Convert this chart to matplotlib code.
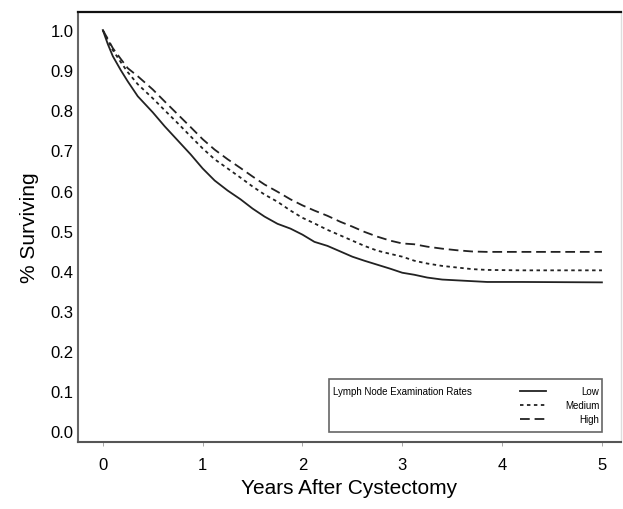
import numpy as np
import matplotlib
matplotlib.use("Agg")
import matplotlib.pyplot as plt
from matplotlib.patches import Rectangle
from matplotlib.lines import Line2D

plt.rcParams['font.family'] = ['Liberation Sans', 'DejaVu Sans']
plt.rcParams['lines.scale_dashes'] = False

# survival curves
years = [0.0, 0.05, 0.1, 0.18, 0.25, 0.35, 0.5, 0.62, 0.75, 0.88, 1.0, 1.12, 1.25, 1.38, 1.5,
         1.62, 1.75, 1.88, 2.0, 2.12, 2.25, 2.38, 2.5, 2.62, 2.75, 2.88, 3.0, 3.12, 3.25,
         3.4, 3.55, 3.7, 3.85, 4.2, 5.0]
low = [1.0, 0.965, 0.935, 0.90, 0.872, 0.835, 0.795, 0.76, 0.725, 0.69, 0.655, 0.625, 0.6, 0.578, 0.555,
       0.535, 0.517, 0.505, 0.49, 0.472, 0.462, 0.448, 0.435, 0.425, 0.415, 0.405, 0.395, 0.39, 0.383,
       0.378, 0.376, 0.374, 0.372, 0.372, 0.371]
medium = [1.0, 0.975, 0.95, 0.92, 0.895, 0.865, 0.83, 0.80, 0.768, 0.735, 0.705, 0.678, 0.655, 0.632, 0.61,
          0.59, 0.572, 0.55, 0.532, 0.518, 0.502, 0.488, 0.475, 0.462, 0.45, 0.442, 0.435, 0.425, 0.418,
          0.412, 0.408, 0.404, 0.402, 0.401, 0.401]
high = [1.0, 0.978, 0.955, 0.928, 0.905, 0.885, 0.852, 0.822, 0.79, 0.758, 0.728, 0.702, 0.678, 0.656, 0.635,
        0.615, 0.597, 0.578, 0.563, 0.55, 0.537, 0.522, 0.51, 0.497, 0.485, 0.475, 0.468, 0.466, 0.46,
        0.455, 0.451, 0.448, 0.447, 0.447, 0.447]

series = [("Low", low, '-'), ("Medium", medium, (0, (2.5, 2.5))), ("High", high, (0, (7, 3.5)))]

fig = plt.figure(figsize=(6.23, 5.10), dpi=100)
ax = fig.add_axes([0.125, 0.1314, 0.8716, 0.843])

lc = '#222222'
for name, vals, ls in series:
    ax.plot(years, vals, color=lc, lw=1.3, linestyle=ls)

ax.set_xlim(-0.25, 5.19)
ax.set_ylim(-0.027, 1.045)
ax.set_xticks(range(0, 6))
ax.set_yticks(np.arange(0, 1.01, 0.1))
ax.set_yticklabels(["%.1f" % v for v in np.arange(0, 1.01, 0.1)])
ax.tick_params(axis='x', labelsize=12, length=3, width=0.6, color='#999999', pad=8)
ax.tick_params(axis='y', labelsize=12, length=0, pad=3)

ax.spines['top'].set_color('#111111')
ax.spines['top'].set_linewidth(1.6)
ax.spines['left'].set_color('#666666')
ax.spines['left'].set_linewidth(1.5)
ax.spines['bottom'].set_color('#555555')
ax.spines['bottom'].set_linewidth(1.5)
ax.spines['right'].set_color('#dddddd')
ax.spines['right'].set_linewidth(1.0)

ax.set_xlabel("Years After Cystectomy", fontsize=15, labelpad=4)
ax.set_ylabel("% Surviving", fontsize=15, labelpad=8)

# legend box
x0, y0, x1, y1 = 0.462, 0.023, 0.965, 0.1465
ax.add_patch(Rectangle((x0, y0), x1 - x0, y1 - y0, transform=ax.transAxes,
                       fill=False, edgecolor='#666666', lw=1.2))
ax.text(0.470, 0.118, "Lymph Node Examination Rates", transform=ax.transAxes,
        fontsize=7, va='center', ha='left')
rows = [0.118, 0.086, 0.053]
for (name, vals, ls), yy in zip(series, rows):
    ax.add_line(Line2D([0.815, 0.862], [yy, yy], transform=ax.transAxes,
                       color=lc, lw=1.3, linestyle=ls))
    ax.text(0.960, yy, name, transform=ax.transAxes, fontsize=7, va='center', ha='right')

fig.savefig("out.png", dpi=100)
